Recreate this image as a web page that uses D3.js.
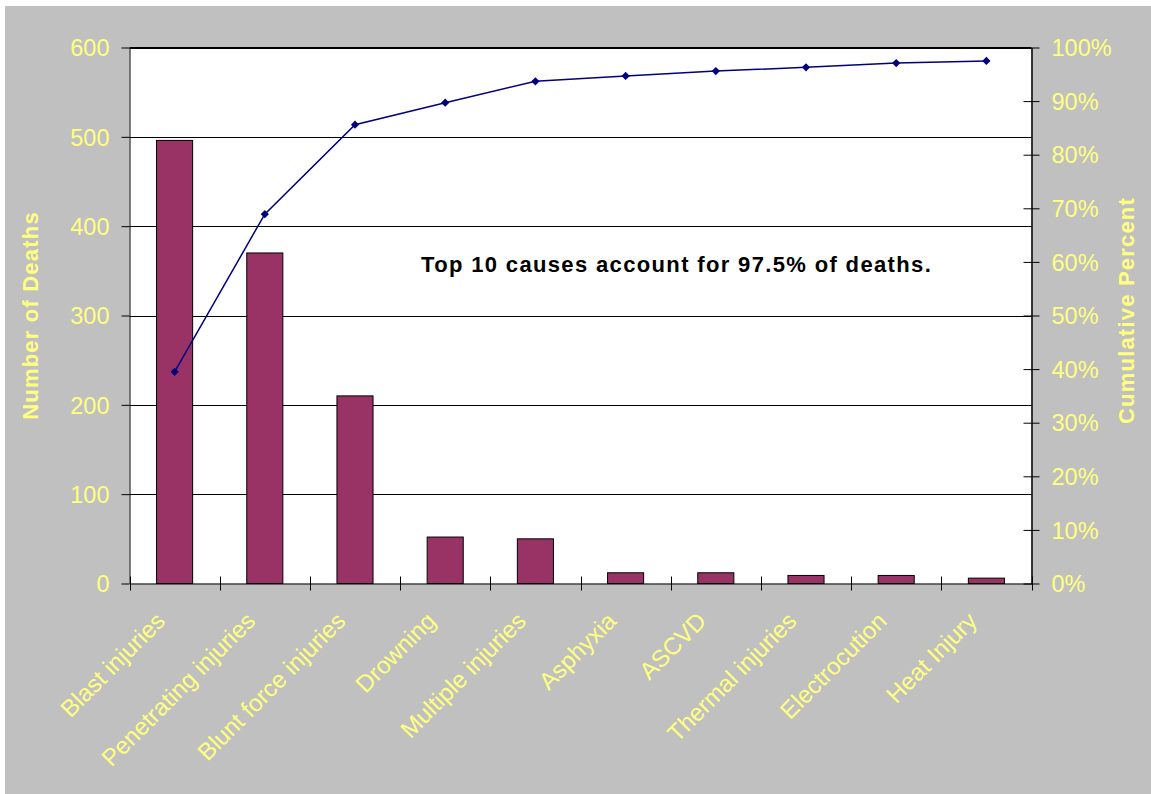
<!DOCTYPE html>
<html>
<head>
<meta charset="utf-8">
<script src="https://cdn.jsdelivr.net/npm/d3@7"></script>
<style>
  body { margin: 0; background: #fff; }
  svg { display: block; }
  text { font-family: Arial, "Liberation Sans", sans-serif; }
</style>
</head>
<body>
<svg id="chart" width="1151" height="794"></svg>
<script>
// Leading causes of death, sorted by count (Pareto view)
const categories = [
  "Blast injuries", "Penetrating injuries", "Blunt force injuries", "Drowning",
  "Multiple injuries", "Asphyxia", "ASCVD", "Thermal injuries",
  "Electrocution", "Heat Injury"
];
const deaths = [496, 370, 210, 52, 50, 12, 12, 9, 9, 6];
const cumulativePercent = [39.5, 68.9, 85.6, 89.7, 93.7, 94.7, 95.6, 96.3, 97.1, 97.5];
const deathTicks = [0, 100, 200, 300, 400, 500, 600];
const percentTicks = [0, 10, 20, 30, 40, 50, 60, 70, 80, 90, 100];

const labelColor = "#FFFF80";
const W = 1151, H = 794;
const plot = { left: 129.5, right: 1031.5, top: 47.5, bottom: 583.5 };

const svg = d3.select("#chart");

// Grey chart area and white plot area
svg.append("rect").attr("x", 5).attr("y", 6).attr("width", W - 5).attr("height", H - 6)
  .attr("fill", "#C0C0C0");
svg.append("rect")
  .attr("x", plot.left).attr("y", plot.top)
  .attr("width", plot.right - plot.left).attr("height", plot.bottom - plot.top)
  .attr("fill", "#fff");

const x = d3.scaleBand().domain(categories)
  .range([plot.left, plot.right]).paddingInner(0.6).paddingOuter(0.3);
const yLeft = d3.scaleLinear().domain([0, 600]).range([plot.bottom, plot.top]);
const yRight = d3.scaleLinear().domain([0, 100]).range([plot.bottom, plot.top]);

// Horizontal gridlines
svg.append("g").selectAll("line").data(deathTicks.filter(d => d > 0)).join("line")
  .attr("x1", plot.left).attr("x2", plot.right)
  .attr("y1", d => Math.round(yLeft(d)) + 0.5).attr("y2", d => Math.round(yLeft(d)) + 0.5)
  .attr("stroke", "#000").attr("stroke-width", 1);

// Bars
svg.append("g").selectAll("rect").data(deaths).join("rect")
  .attr("x", (d, i) => x(categories[i]))
  .attr("y", d => yLeft(d))
  .attr("width", x.bandwidth())
  .attr("height", d => yLeft(0) - yLeft(d))
  .attr("fill", "#993366")
  .attr("stroke", "#000").attr("stroke-width", 1);

// Left axis
const leftAxis = svg.append("g").attr("transform", `translate(${plot.left},0)`)
  .call(d3.axisLeft(yLeft).tickValues(deathTicks).tickSizeInner(8).tickSizeOuter(0).tickPadding(12));
leftAxis.select(".domain").attr("stroke", "#000");
leftAxis.selectAll(".tick line").attr("stroke", "#000");
leftAxis.selectAll(".tick text")
  .attr("fill", labelColor).attr("font-size", "23.5px").attr("dy", "0.35em");

// Right axis (ticks cross the axis line)
const rightAxis = svg.append("g").attr("transform", `translate(${plot.right},0)`)
  .call(d3.axisRight(yRight).tickValues(percentTicks).tickSizeInner(8).tickSizeOuter(0)
    .tickPadding(12).tickFormat(d => d + "%"));
rightAxis.select(".domain").attr("stroke", "#000").attr("stroke-width", 1.5);
rightAxis.selectAll(".tick line").attr("x1", -8).attr("x2", 8).attr("stroke", "#000");
rightAxis.selectAll(".tick text")
  .attr("fill", labelColor).attr("font-size", "23.5px").attr("dy", "0.35em");

// Bottom axis: tick marks sit on category boundaries, labels rotated
const bottomAxis = svg.append("g").attr("transform", `translate(0,${plot.bottom})`)
  .call(d3.axisBottom(x).tickSize(0).tickPadding(0));
bottomAxis.select(".domain").attr("stroke", "#000");
bottomAxis.selectAll(".tick text")
  .attr("fill", labelColor).attr("font-size", "24px")
  .attr("text-anchor", "end").attr("dy", 0)
  .attr("transform", "translate(-8,39) rotate(-45)");
const boundaries = d3.range(categories.length + 1).map(i => x.range()[0] + i * x.step());
bottomAxis.append("g").selectAll("line").data(boundaries).join("line")
  .attr("x1", d => Math.round(d) + 0.5).attr("x2", d => Math.round(d) + 0.5)
  .attr("y1", -7).attr("y2", 7)
  .attr("stroke", "#000");

// Top border of the plot area
svg.append("line").attr("x1", plot.left).attr("x2", plot.right)
  .attr("y1", plot.top).attr("y2", plot.top).attr("stroke", "#000");

// Cumulative percent line with diamond markers
const cx = i => x(categories[i]) + x.bandwidth() / 2;
const line = d3.line().x((d, i) => cx(i)).y(d => yRight(d));
svg.append("path").datum(cumulativePercent)
  .attr("d", line).attr("fill", "none")
  .attr("stroke", "#000080").attr("stroke-width", 1.5);
svg.append("g").selectAll("path").data(cumulativePercent).join("path")
  .attr("d", d3.symbol().type(d3.symbolSquare).size(34))
  .attr("transform", (d, i) => `translate(${cx(i)},${yRight(d)}) rotate(45)`)
  .attr("fill", "#000080");

// Annotation
svg.append("text").attr("x", 421).attr("y", 272)
  .attr("font-size", "22px").attr("font-weight", "bold").attr("letter-spacing", "1.35px")
  .attr("fill", "#000")
  .text("Top 10 causes account for 97.5% of deaths.");

// Axis titles
svg.append("text")
  .attr("transform", `translate(38,${(plot.top + plot.bottom) / 2}) rotate(-90)`)
  .attr("text-anchor", "middle")
  .attr("font-size", "22px").attr("font-weight", "bold").attr("letter-spacing", "1.2px")
  .attr("fill", labelColor)
  .text("Number of Deaths");
svg.append("text")
  .attr("transform", `translate(1134,${(plot.top + plot.bottom) / 2 - 5}) rotate(-90)`)
  .attr("text-anchor", "middle")
  .attr("font-size", "22px").attr("font-weight", "bold").attr("letter-spacing", "1.2px")
  .attr("fill", labelColor)
  .text("Cumulative Percent");
</script>
</body>
</html>
